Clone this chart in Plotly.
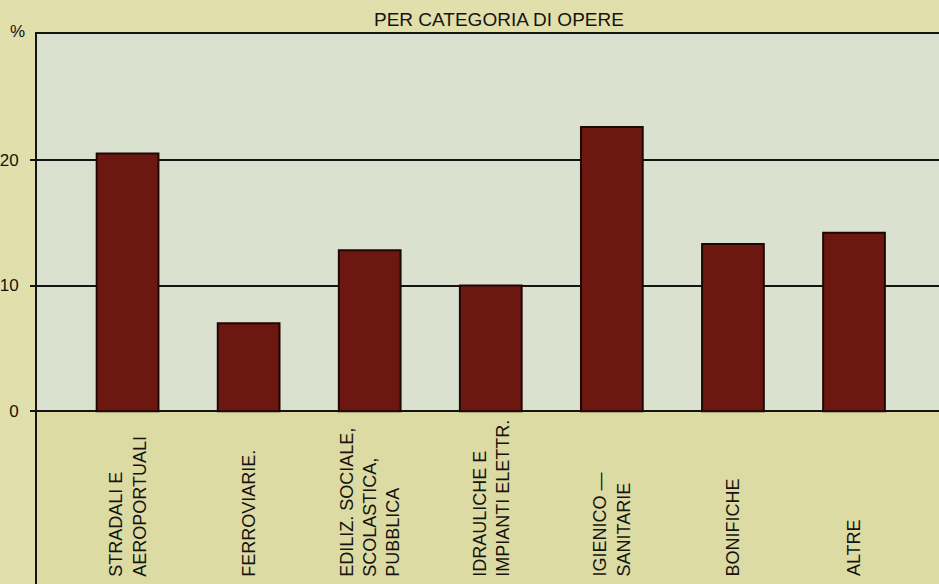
import plotly.graph_objects as go

# Categorie di opere e quote percentuali
categories = [
    "STRADALI E<br>AEROPORTUALI",
    "FERROVIARIE.",
    "EDILIZ. SOCIALE,<br>SCOLASTICA,<br>PUBBLICA",
    "IDRAULICHE E<br>IMPIANTI ELETTR.",
    "IGIENICO —<br>SANITARIE",
    "BONIFICHE",
    "ALTRE",
]
values = [20.5, 7.0, 12.8, 10.0, 22.6, 13.3, 14.2]
y_ticks = [0, 10, 20]
title_text = "PER CATEGORIA DI OPERE"
unit_text = "%"

FONT = "Liberation Sans, Arial, Helvetica, sans-serif"
INK = "#161310"
BAR = "#6c170f"
UPPER_BG = "#dbe1cf"
LOWER_BG = "#dcdba3"
PAPER_BG = "#e1dfab"

y_min, y_max = -13.73, 30

fig = go.Figure(
    go.Bar(
        x=categories,
        y=values,
        width=0.51,
        marker=dict(color=BAR, line=dict(color="#1e0806", width=2)),
        hoverinfo="skip",
    )
)

# Fascia gialla sotto lo zero, dove stanno le etichette
fig.add_shape(
    type="rect", xref="paper", yref="y",
    x0=0, x1=1, y0=y_min, y1=0,
    fillcolor=LOWER_BG, line=dict(width=0), layer="below",
)

# Etichette verticali delle categorie, allineate in basso
for cat in categories:
    fig.add_annotation(
        x=cat, y=-13.3, xref="x", yref="y",
        text=cat, textangle=-90, showarrow=False,
        xanchor="center", yanchor="bottom", align="left",
        font=dict(family=FONT, size=18, color=INK),
    )

fig.add_annotation(
    x=0.512, y=1.0255, xref="paper", yref="paper",
    text=title_text, showarrow=False,
    xanchor="center", yanchor="middle",
    font=dict(family=FONT, size=19, color=INK),
)

fig.add_annotation(
    x=0, y=y_max, xref="paper", yref="y",
    text=unit_text, showarrow=False,
    xanchor="right", yanchor="middle", xshift=-10, yshift=3,
    font=dict(family=FONT, size=17, color=INK),
)

fig.update_layout(
    width=939, height=584,
    margin=dict(l=33, r=0, t=34, b=0),
    paper_bgcolor=PAPER_BG,
    plot_bgcolor=UPPER_BG,
    showlegend=False,
    bargap=0.49,
    xaxis=dict(
        type="category",
        range=[-0.748, 6.702],
        showticklabels=False,
        showgrid=False, zeroline=False,
        showline=True, mirror=True, linecolor=INK, linewidth=2,
        ticks="", fixedrange=True,
    ),
    yaxis=dict(
        range=[y_min, y_max],
        tickvals=y_ticks,
        ticktext=[str(v) for v in y_ticks],
        showgrid=True, gridcolor=INK, gridwidth=2,
        zeroline=True, zerolinecolor=INK, zerolinewidth=2,
        showline=True, linecolor=INK, linewidth=2,
        ticks="outside", ticklen=5, tickwidth=2, tickcolor=INK,
        ticklabelstandoff=8,
        tickfont=dict(family=FONT, size=17, color=INK),
        fixedrange=True,
    ),
)

fig.write_html("out.html", config={"displayModeBar": False})
